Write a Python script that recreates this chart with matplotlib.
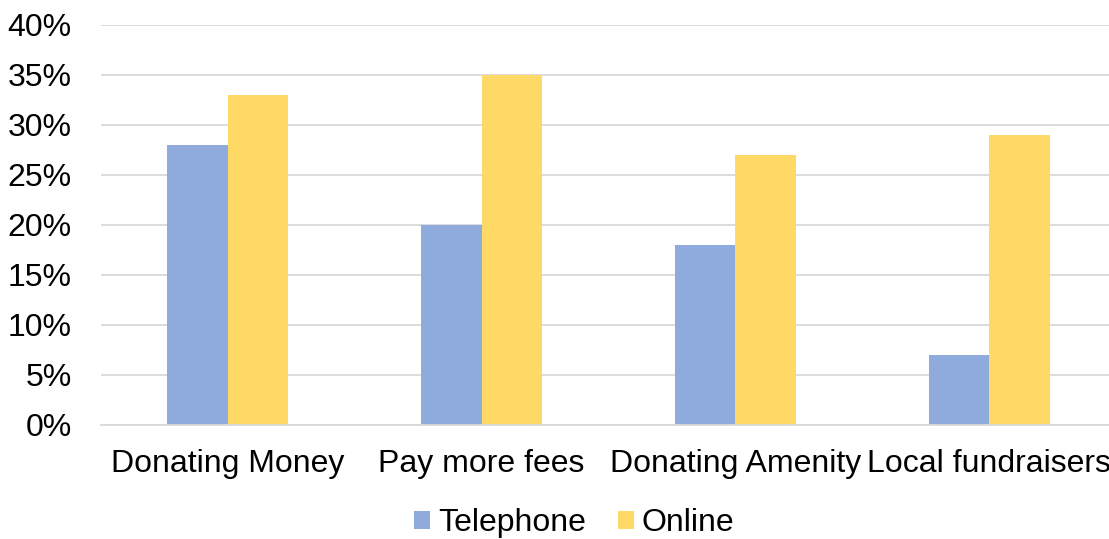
import numpy as np
import matplotlib
matplotlib.use("Agg")
import matplotlib.pyplot as plt
from matplotlib.ticker import FuncFormatter

categories = ["Donating Money", "Pay more fees", "Donating Amenity", "Local fundraisers"]
telephone = [28, 20, 18, 7]
online = [33, 35, 27, 29]
series_names = ["Telephone", "Online"]
colors = ["#8FAADC", "#FFD966"]

plt.rcParams['font.family'] = ['Liberation Sans', 'DejaVu Sans']

fig = plt.figure(figsize=(11.09, 5.39), dpi=100)
ax = fig.add_axes([101/1109, 114/539, 1015/1109, 400/539])

x = np.arange(len(categories))
w = 0.238
ax.bar(x - w/2, telephone, w, color=colors[0], label=series_names[0], zorder=3)
ax.bar(x + w/2, online, w, color=colors[1], label=series_names[1], zorder=3)

ax.set_xlim(-0.5, len(categories) - 0.5)
ax.set_ylim(0, 40)
ax.set_yticks(range(0, 41, 5))
ax.yaxis.set_major_formatter(FuncFormatter(lambda v, p: f"{int(v)}%"))
ax.yaxis.grid(True, color="#D9D9D9", linewidth=1.3, zorder=0)
ax.set_axisbelow(True)
for s in ["top", "right", "left"]:
    ax.spines[s].set_visible(False)
ax.spines["bottom"].set_color("#D9D9D9")
ax.spines["bottom"].set_linewidth(1.3)
ax.spines["bottom"].set_zorder(4)

ax.set_xticks(x)
ax.set_xticklabels(categories)
ax.tick_params(axis="both", length=0, labelsize=23, colors="black")
ax.tick_params(axis="y", pad=21)
ax.tick_params(axis="x", pad=17)

fig.legend(loc="center", bbox_to_anchor=(574/1109, 1 - 523/539), ncol=2, frameon=False,
           fontsize=23, handlelength=0.5, handleheight=0.5, handletextpad=0.25,
           columnspacing=1.0)

fig.savefig("out.png", dpi=100)
